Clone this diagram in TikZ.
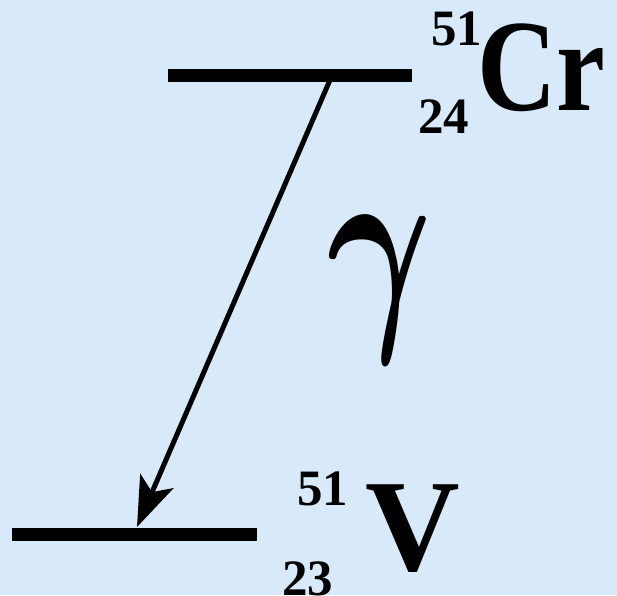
\documentclass[tikz,border=0pt]{standalone}
\usepackage{fontspec}
\setmainfont{Liberation Serif}
\usepackage{graphicx}
\usepackage{xcolor}
\usetikzlibrary{arrows.meta}
\definecolor{paper}{HTML}{D8E9FA}
\tikzset{
  level/.style={line width=13pt},
  trans/.style={line width=5pt,-{Stealth[length=50pt,width=36pt,inset=12pt]}},
  nuc/.style={inner sep=0pt,anchor=base west,font=\bfseries\fontsize{131}{131}\selectfont},
  idx/.style={inner sep=0pt,anchor=base west,font=\bfseries\fontsize{51}{51}\selectfont}
}
\begin{document}
\begin{tikzpicture}[x=1pt,y=-1pt]
\fill[paper] (0,0) rectangle (617,595);
\useasboundingbox (0,0) rectangle (617,595);
% levels
\draw[level] (168,75) -- (412,75);
\draw[level] (12,534) -- (257,534);
\coordinate (top) at (330,80);
\coordinate (bot) at (137,527);
\draw[trans] (top) -- (bot);
% labels
\node[nuc] (cr) at (477,110) {\scalebox{0.84}[1]{Cr}};
\node[idx] (cra) at (431,45) {51};
\node[idx] (crz) at (418,133) {24};
\node[inner sep=0pt,font=\boldmath] (gam) at (380,290) {\scalebox{16}[23]{$\gamma$}};
\node[nuc] (v) at (365,570) {V};
\node[idx] (va) at (297,505) {51};
\node[idx] (vz) at (282,595) {23};
\end{tikzpicture}
\end{document}
